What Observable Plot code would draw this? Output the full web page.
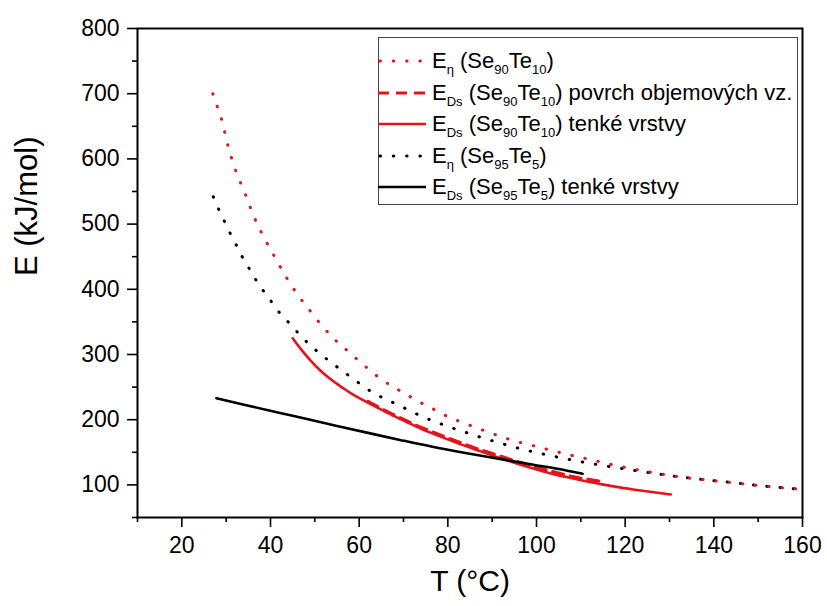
<!DOCTYPE html>
<html>
<head>
<meta charset="utf-8">
<script src="https://cdn.jsdelivr.net/npm/d3@7"></script>
<script src="https://cdn.jsdelivr.net/npm/@observablehq/plot@0.6"></script>
<style>
  body { margin: 0; background: #fff; }
  #wrap { position: relative; width: 827px; height: 606px; font-family: "Liberation Sans", Arial, sans-serif; }
  #legend { position: absolute; left: 378px; top: 37px; width: 420px; height: 168px; border: 1px solid #444; box-sizing: border-box; background: #fff; }
  .row { position: absolute; left: -1px; height: 30px; display: flex; align-items: center; font-size: 22px; white-space: nowrap; color: #000; }
  .row svg { width: 48px; height: 10px; margin-right: 6px; flex: none; }
  sub { font-size: 13px; vertical-align: -6px; line-height: 0; }
</style>
</head>
<body>
<div id="wrap"></div>
<script>
// ---- data ----
const xMajorTicks = [20, 40, 60, 80, 100, 120, 140, 160];
const xMinorTicks = [10, 30, 50, 70, 90, 110, 130, 150];
const yMajorTicks = [100, 200, 300, 400, 500, 600, 700, 800];
const yMinorTicks = [50, 150, 250, 350, 450, 550, 650, 750];

// E_eta (Se90Te10) – red dotted
const tEtaSe90 = [27, 28, 29, 30.3, 32, 34.3, 36.5, 39.2, 41.5, 43.6, 46, 48.6, 51.5, 54.5, 58, 61, 65, 70.6, 73.4, 76, 80.9, 83.6, 89.1, 94.8, 100.5, 106.2, 112, 117.8, 123.7, 129.7, 135, 140, 145, 150, 155, 160];
const eEtaSe90 = [700, 680, 660, 623, 585, 546, 508, 471, 443, 418, 393, 370, 345, 323, 302, 284, 262, 239, 228, 219, 202, 195, 181, 168, 158, 148, 139, 130, 122, 115, 110, 106.5, 103, 99, 96, 93];

// E_Ds (Se90Te10) povrch objemových vz. – red dashed
const tDsSe90Bulk = [62, 65, 68, 72, 77, 82, 86, 91, 97, 103, 109, 115];
const eDsSe90Bulk = [228, 217, 207, 194, 180, 167, 157, 146, 133, 121.5, 111.5, 105];

// E_Ds (Se90Te10) tenké vrstvy – red solid
const tDsSe90Thin = [45, 47, 49, 51, 53, 55, 57, 59, 61, 64, 67, 70.7, 74, 78.2, 82, 85.7, 91, 95, 99.3, 103, 106.8, 110, 114.3, 118, 121.8, 126, 130.3];
const eDsSe90Thin = [325, 307, 291, 277, 265, 255, 245.5, 237, 229.5, 219, 208.5, 196.5, 186, 174.5, 164.5, 155.5, 143, 134, 125, 118, 112, 107, 101.5, 97, 93, 89, 85.3];

// E_eta (Se95Te5) – black dotted
const tEtaSe95 = [27.1, 28.3, 29.6, 30.9, 32.2, 33.6, 35.1, 36.6, 38.3, 40.1, 41.8, 43.7, 45.7, 47.7, 50, 52.3, 54.6, 56.8, 59.2, 61.6, 69.6, 74.5, 79.9, 85.6, 91.5, 97.2, 103.1, 108.9, 114.8, 120.7, 126.7, 132.7, 140, 145, 150, 155, 160];
const eEtaSe95 = [542, 523, 504.5, 486, 469, 450, 433, 415.5, 398.6, 382, 366, 352, 337, 322.5, 308, 295, 283, 272, 260, 248, 220, 204, 190, 177, 164.6, 154, 145, 137, 130, 123.6, 117.5, 112, 106.5, 103, 99, 96, 93];

// E_Ds (Se95Te5) tenké vrstvy – black solid
const tDsSe95Thin = [27.8, 35, 45, 55, 62.5, 69.2, 76.5, 84.3, 92, 99.3, 105, 110.4];
const eDsSe95Thin = [233, 221.5, 206, 190.5, 179, 169, 158.5, 148.5, 139.5, 131, 124.5, 117];

const seriesColors = { red: "#e5141c", black: "#000000" };

// ---- build tables ----
const toRows = (ts, es) => ts.map((t, i) => ({ T: t, E: es[i] }));
const etaSe90 = toRows(tEtaSe90, eEtaSe90);
const dsSe90Bulk = toRows(tDsSe90Bulk, eDsSe90Bulk);
const dsSe90Thin = toRows(tDsSe90Thin, eDsSe90Thin);
const etaSe95 = toRows(tEtaSe95, eEtaSe95);
const dsSe95Thin = toRows(tDsSe95Thin, eDsSe95Thin);

const chart = Plot.plot({
  width: 827,
  height: 606,
  marginLeft: 137,
  marginRight: 25,
  marginTop: 28,
  marginBottom: 89,
  style: { fontFamily: "'Liberation Sans', Arial, sans-serif", background: "white", color: "black", overflow: "visible" },
  x: { domain: [10, 160] },
  y: { domain: [50, 800] },
  marks: [
    Plot.axisX(xMajorTicks, { tickSize: 10, tickPadding: 9, fontSize: 23, strokeWidth: 1.6, label: null }),
    Plot.axisX(xMinorTicks, { tickSize: 5, tickFormat: () => "", strokeWidth: 1.6, label: null }),
    Plot.axisY(yMajorTicks, { tickSize: 10, tickPadding: 8, fontSize: 23, strokeWidth: 1.6, label: null }),
    Plot.axisY(yMinorTicks, { tickSize: 5, tickFormat: () => "", strokeWidth: 1.6, label: null }),
    Plot.text(["T (°C)"], { text: d => d, frameAnchor: "bottom", dy: 73, fontSize: 30 }),
    Plot.text(["E (kJ/mol)"], { text: d => d, frameAnchor: "left", dx: -110, dy: 3, rotate: -90, fontSize: 31 }),
    Plot.line(etaSe95, { x: "T", y: "E", stroke: seriesColors.black, strokeWidth: 3, strokeDasharray: "0.5,12.8", strokeLinecap: "round", curve: "monotone-x" }),
    Plot.line(etaSe90, { x: "T", y: "E", stroke: seriesColors.red, strokeWidth: 3, strokeDasharray: "0.5,12.8", strokeLinecap: "round", curve: "monotone-x" }),
    Plot.line(dsSe90Thin, { x: "T", y: "E", stroke: seriesColors.red, strokeWidth: 2.6, curve: "monotone-x" }),
    Plot.line(dsSe90Bulk, { x: "T", y: "E", stroke: seriesColors.red, strokeWidth: 3.2, strokeDasharray: "11,7", curve: "monotone-x" }),
    Plot.line(dsSe95Thin, { x: "T", y: "E", stroke: seriesColors.black, strokeWidth: 2.6, curve: "monotone-x" }),
    Plot.frame({ stroke: "black", strokeWidth: 2 })
  ]
});

const wrap = document.getElementById("wrap");
wrap.appendChild(chart);

// ---- legend ----
const legendItems = [
  { html: "E<sub>η</sub> (Se<sub>90</sub>Te<sub>10</sub>)", color: seriesColors.red, dash: "0.5,12.8", cap: "round", w: 3 },
  { html: "E<sub>Ds</sub> (Se<sub>90</sub>Te<sub>10</sub>) povrch objemových vz.", color: seriesColors.red, dash: "11,7", cap: "butt", w: 3.2 },
  { html: "E<sub>Ds</sub> (Se<sub>90</sub>Te<sub>10</sub>) tenké vrstvy", color: seriesColors.red, dash: "none", cap: "butt", w: 2.6 },
  { html: "E<sub>η</sub> (Se<sub>95</sub>Te<sub>5</sub>)", color: seriesColors.black, dash: "0.5,12.8", cap: "round", w: 3 },
  { html: "E<sub>Ds</sub> (Se<sub>95</sub>Te<sub>5</sub>) tenké vrstvy", color: seriesColors.black, dash: "none", cap: "butt", w: 2.6 }
];
const legend = document.createElement("div");
legend.id = "legend";
const rowCenters = [61, 93, 124, 156, 187];
legendItems.forEach((it, i) => {
  const row = document.createElement("div");
  row.className = "row";
  row.style.top = (rowCenters[i] - 38 - 15) + "px";
  row.innerHTML = `<svg viewBox="0 0 48 10"><line x1="${it.cap === 'round' ? 2 : 0}" y1="5" x2="48" y2="5" stroke="${it.color}" stroke-width="${it.w}" stroke-dasharray="${it.dash}" stroke-linecap="${it.cap}"/></svg><span>${it.html}</span>`;
  legend.appendChild(row);
});
wrap.appendChild(legend);
</script>
</body>
</html>
